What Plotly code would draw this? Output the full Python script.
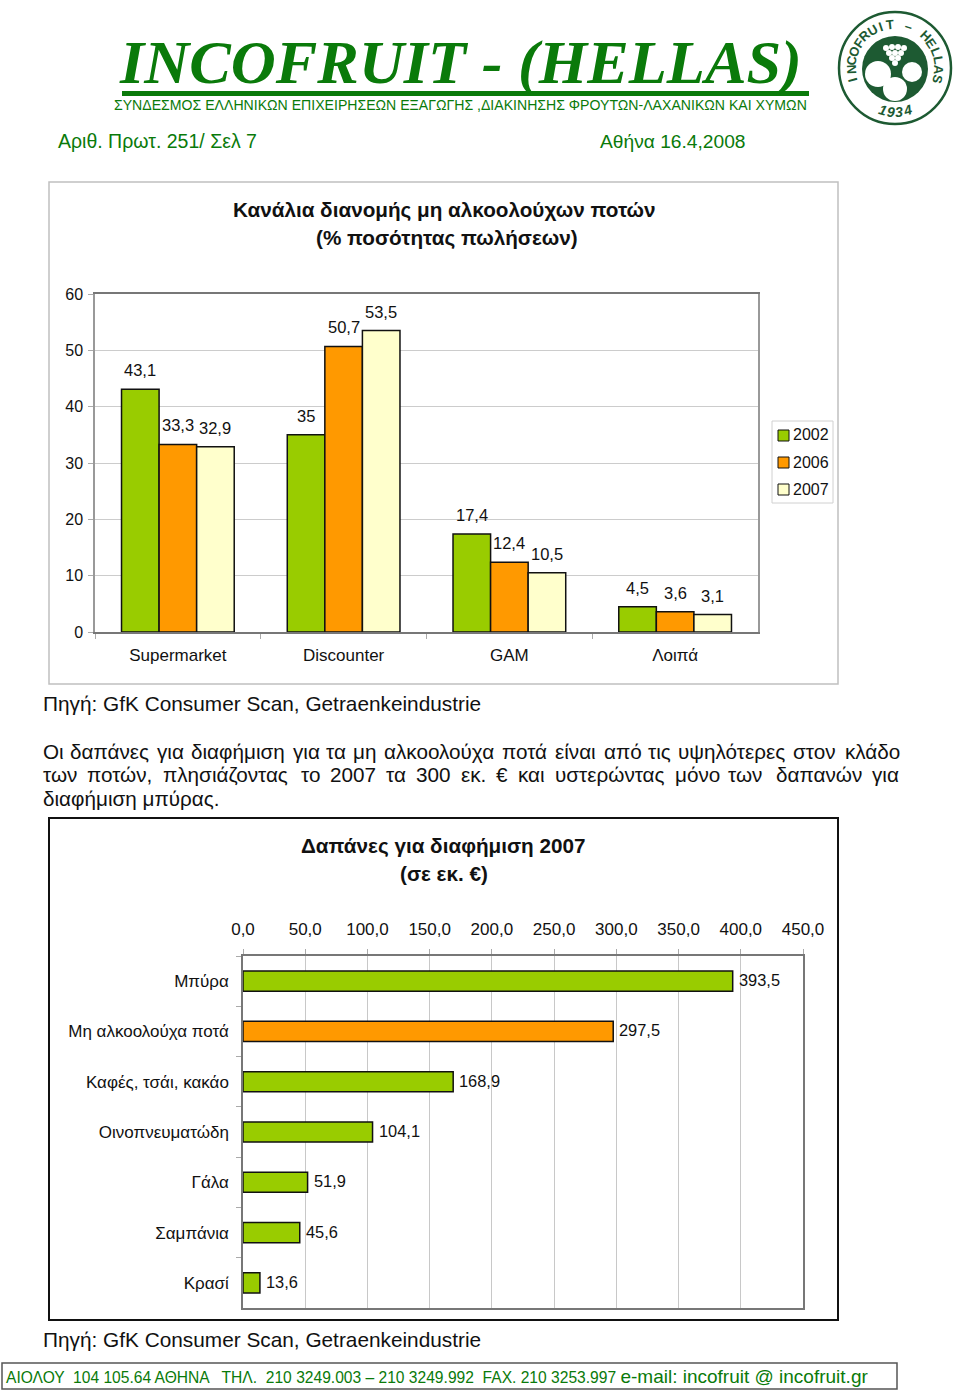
import math
import plotly.graph_objects as go

W, H = 960, 1394
FONT = "Liberation Sans"
INK = "#111111"
GREEN = "#0a7a0a"

# ---- data -----------------------------------------------------------------
channels = ["Supermarket", "Discounter", "GAM", "Λοιπά"]
years = ["2002", "2006", "2007"]
values_2002 = [43.1, 35, 17.4, 4.5]
values_2006 = [33.3, 50.7, 12.4, 3.6]
values_2007 = [32.9, 53.5, 10.5, 3.1]
year_colors = ["#99cc00", "#ff9900", "#ffffcc"]

media = ["Μπύρα", "Μη αλκοολούχα ποτά", "Καφές, τσάι, κακάο", "Οινοπνευματώδη",
         "Γάλα", "Σαμπάνια", "Κρασί"]
spend = [393.5, 297.5, 168.9, 104.1, 51.9, 45.6, 13.6]
spend_colors = ["#99cc00", "#ff9900", "#99cc00", "#99cc00", "#99cc00", "#99cc00", "#99cc00"]

spend_ticks = [0, 50, 100, 150, 200, 250, 300, 350, 400, 450]
share_ticks = [0, 10, 20, 30, 40, 50, 60]


def px(x):
    return x / W


def py(y):
    return 1 - y / H


def el(value):
    return f"{value:g}".replace(".", ",")


fig = go.Figure()
annotations = []
shapes = []


def note(x, y, text, size=16, color=INK, anchor="left", family=FONT, angle=0, va="middle"):
    annotations.append(dict(
        xref="paper", yref="paper", x=px(x), y=py(y), text=text, showarrow=False,
        xanchor=anchor, yanchor=va, textangle=angle, borderpad=0, borderwidth=0,
        font=dict(family=family, size=size, color=color), align="left"))


def rect(x0, y0, x1, y1, line=None, width=1, fill=None, layer="below"):
    shapes.append(dict(
        type="rect", xref="paper", yref="paper", x0=px(x0), x1=px(x1), y0=py(y0), y1=py(y1),
        line=dict(color=line or "rgba(0,0,0,0)", width=width if line else 0),
        fillcolor=fill or "rgba(0,0,0,0)", layer=layer))


def disc(cx, cy, r, fill=None, line=None, width=1, layer="above"):
    shapes.append(dict(
        type="circle", xref="paper", yref="paper",
        x0=px(cx - r), x1=px(cx + r), y0=py(cy + r), y1=py(cy - r),
        line=dict(color=line or "rgba(0,0,0,0)", width=width if line else 0),
        fillcolor=fill or "rgba(0,0,0,0)", layer=layer))


# ---- top chart -------------------------------------------------------------
for name, vals, color in zip(years, [values_2002, values_2006, values_2007], year_colors):
    fig.add_trace(go.Bar(
        x=channels, y=vals, name=name, xaxis="x", yaxis="y",
        marker=dict(color=color, line=dict(color="#111111", width=1.5)),
        showlegend=False))

for offset, vals in zip([-37.5, 0, 37.5], [values_2002, values_2006, values_2007]):
    for cat, v in zip(channels, vals):
        annotations.append(dict(
            xref="x", yref="y", x=cat, y=v, text=el(v), showarrow=False,
            xshift=offset, yshift=19, yanchor="middle", xanchor="center",
            font=dict(family=FONT, size=16.5, color=INK)))

# ---- bottom chart ----------------------------------------------------------
fig.add_trace(go.Bar(
    x=spend, y=media, orientation="h", xaxis="x2", yaxis="y2", width=0.4,
    marker=dict(color=spend_colors, line=dict(color="#111111", width=1.5)),
    showlegend=False))
for cat, v in zip(media, spend):
    annotations.append(dict(
        xref="x2", yref="y2", x=v, y=cat, text=el(v), showarrow=False,
        xshift=5, yshift=1, xanchor="left", yanchor="middle", borderpad=0,
        font=dict(family=FONT, size=16.4, color=INK)))

# ---- frames ----------------------------------------------------------------
rect(49, 182, 838, 684, line="#c0c0c0", width=1.5)
rect(49, 818, 838, 1320, line="#111111", width=2)
rect(2, 1363, 897, 1389, line="#555555", width=1.5)
rect(122, 91, 809, 96, fill=GREEN)

# ---- page header -----------------------------------------------------------
note(460, 62, "<b><i>INCOFRUIT - (HELLAS)</i></b>", size=62.3, color=GREEN, anchor="center",
     family="Liberation Serif")
note(460, 105, "ΣΥΝΔΕΣΜΟΣ ΕΛΛΗΝΙΚΩΝ ΕΠΙΧΕΙΡΗΣΕΩΝ ΕΞΑΓΩΓΗΣ ,ΔΙΑΚΙΝΗΣΗΣ ΦΡΟΥΤΩΝ-ΛΑΧΑΝΙΚΩΝ ΚΑΙ ΧΥΜΩΝ",
     size=14.1, color=GREEN, anchor="center")
note(58, 141, "Αριθ. Πρωτ. 251/ Σελ 7", size=19.5, color=GREEN)
note(600, 141, "Αθήνα 16.4,2008", size=19.2, color=GREEN)

# ---- logo ------------------------------------------------------------------
LOGO_X, LOGO_Y = 895, 68
DARK = "#1d5a32"
disc(LOGO_X, LOGO_Y, 56, fill="#ffffff", line=DARK, width=2.5)
disc(LOGO_X, LOGO_Y + 1, 33, fill=DARK)
disc(878, 74, 13, fill="#ffffff")
disc(912, 72, 10, fill="#ffffff")
disc(895, 89, 12, fill="#ffffff")
for gx, gy in [(886, 48), (892, 47), (898, 47), (904, 48), (889, 53), (895, 53), (901, 53),
               (892, 58), (898, 58), (895, 63)]:
    disc(gx, gy, 3, fill="#ffffff")
ring_text = "INCOFRUIT – HELLAS"
ring_start, ring_end = -105, 105
for i, ch in enumerate(ring_text):
    a = ring_start + (ring_end - ring_start) * i / (len(ring_text) - 1)
    ar = math.radians(a)
    note(LOGO_X + 44 * math.sin(ar), LOGO_Y - 44 * math.cos(ar), f"<b>{ch}</b>", size=13,
         color=DARK, anchor="center", angle=a)
for i, ch in enumerate("1934"):
    a = -16 + 32 / 3 * i
    ar = math.radians(a)
    note(LOGO_X + 44 * math.sin(ar), LOGO_Y + 44 * math.cos(ar), f"<i><b>{ch}</b></i>", size=14,
         color=DARK, anchor="center", angle=-a)

# ---- chart titles ----------------------------------------------------------
note(444, 210, "<b>Κανάλια διανομής μη αλκοολούχων ποτών</b>", size=20.7, anchor="center")
note(447, 238, "<b>(% ποσότητας πωλήσεων)</b>", size=20.7, anchor="center")
note(443, 846, "<b>Δαπάνες για διαφήμιση 2007</b>", size=20.7, anchor="center")
note(444, 873, "<b>(σε εκ. €)</b>", size=20.7, anchor="center")

# ---- legend ----------------------------------------------------------------
rect(772, 421, 833, 503, line="#d0d0d0", width=1)
for name, color, ly in zip(years, year_colors, [435, 462, 489]):
    rect(778, ly - 5, 789, ly + 6, line="#111111", width=1, fill=color)
    note(793, ly, name, size=16)

# ---- body text -------------------------------------------------------------
note(43, 703, "Πηγή: GfK Consumer Scan, Getraenkeindustrie", size=20.8)
note(43, 1339, "Πηγή: GfK Consumer Scan, Getraenkeindustrie", size=20.8)
line1 = [(43, "Οι"), (70, "δαπάνες"), (157, "για"), (191, "διαφήμιση"), (293, "για"), (326, "τα"),
         (353, "μη"), (384, "αλκοολούχα"), (502, "ποτά"), (555, "είναι"), (604, "από"),
         (648, "τις"), (678, "υψηλότερες"), (793, "στον"), (845, "κλάδο")]
line2 = [(43, "των"), (87, "ποτών,"), (163, "πλησιάζοντας"), (301, "το"), (330, "2007"), (386, "τα"),
         (416, "300"), (461, "εκ."), (496, "€"), (518, "και"), (555, "υστερώντας"), (675, "μόνο"),
         (728, "των"), (776, "δαπανών"), (872, "για")]
for wx, word in line1:
    note(wx, 751, word, size=20.7)
for wx, word in line2:
    note(wx, 775, word, size=20.7)
note(43, 799, "διαφήμιση μπύρας.", size=20.7)

# ---- footer ----------------------------------------------------------------
note(6, 1376, "ΑΙΟΛΟΥ  104 105.64 ΑΘΗΝΑ   ΤΗΛ.  210 3249.003 – 210 3249.992  FAX. 210 3253.997 "
     "<span style='font-size:19px'>e-mail: incofruit @ incofruit.gr</span>", size=15.6, color=GREEN)

axis_font = dict(family=FONT, size=17, color=INK)
fig.update_layout(
    template="none",
    width=W, height=H, autosize=False,
    margin=dict(l=0, r=0, t=0, b=0, pad=0), paper_bgcolor="#ffffff", plot_bgcolor="#ffffff",
    barmode="group", bargap=0.32, bargroupgap=0,
    separators=", ",
    xaxis=dict(domain=[px(95), px(758)], anchor="y", type="category", automargin=False,
               tickson="boundaries", ticks="outside", ticklen=5, tickcolor="#aaaaaa",
               showline=True, linecolor="#777777", linewidth=1.5, mirror=True,
               showgrid=False, tickfont=axis_font, ticklabelstandoff=7),
    yaxis=dict(domain=[py(632), py(294)], anchor="x", range=[0, 60], tickvals=share_ticks,
               automargin=False,
               ticks="outside", ticklen=5, tickcolor="#aaaaaa",
               showline=True, linecolor="#999999", linewidth=1.5, mirror=True,
               showgrid=True, gridcolor="#cccccc", gridwidth=1, zeroline=False,
               tickfont=dict(family=FONT, size=16, color=INK), ticklabelstandoff=2),
    xaxis2=dict(domain=[px(243), px(803)], anchor="y2", side="top", range=[0, 450],
                automargin=False,
                tickvals=spend_ticks, tickformat=".1f", ticks="outside", ticklen=5,
                tickcolor="#aaaaaa", showline=True, linecolor="#777777", linewidth=1.5,
                mirror=True, showgrid=True, gridcolor="#c8c8c8", gridwidth=1, zeroline=False,
                tickfont=axis_font, ticklabelstandoff=7),
    yaxis2=dict(domain=[py(1308), py(956)], anchor="x2", type="category", autorange="reversed",
                automargin=False,
                tickson="boundaries", ticks="outside", ticklen=5, tickcolor="#aaaaaa",
                showline=True, linecolor="#777777", linewidth=1.5, mirror=True,
                showgrid=False, tickfont=axis_font, ticklabelstandoff=9),
    annotations=annotations, shapes=shapes,
)

fig.write_html("out.html", config={"displayModeBar": False},
               post_script="document.body.style.margin='0';")
